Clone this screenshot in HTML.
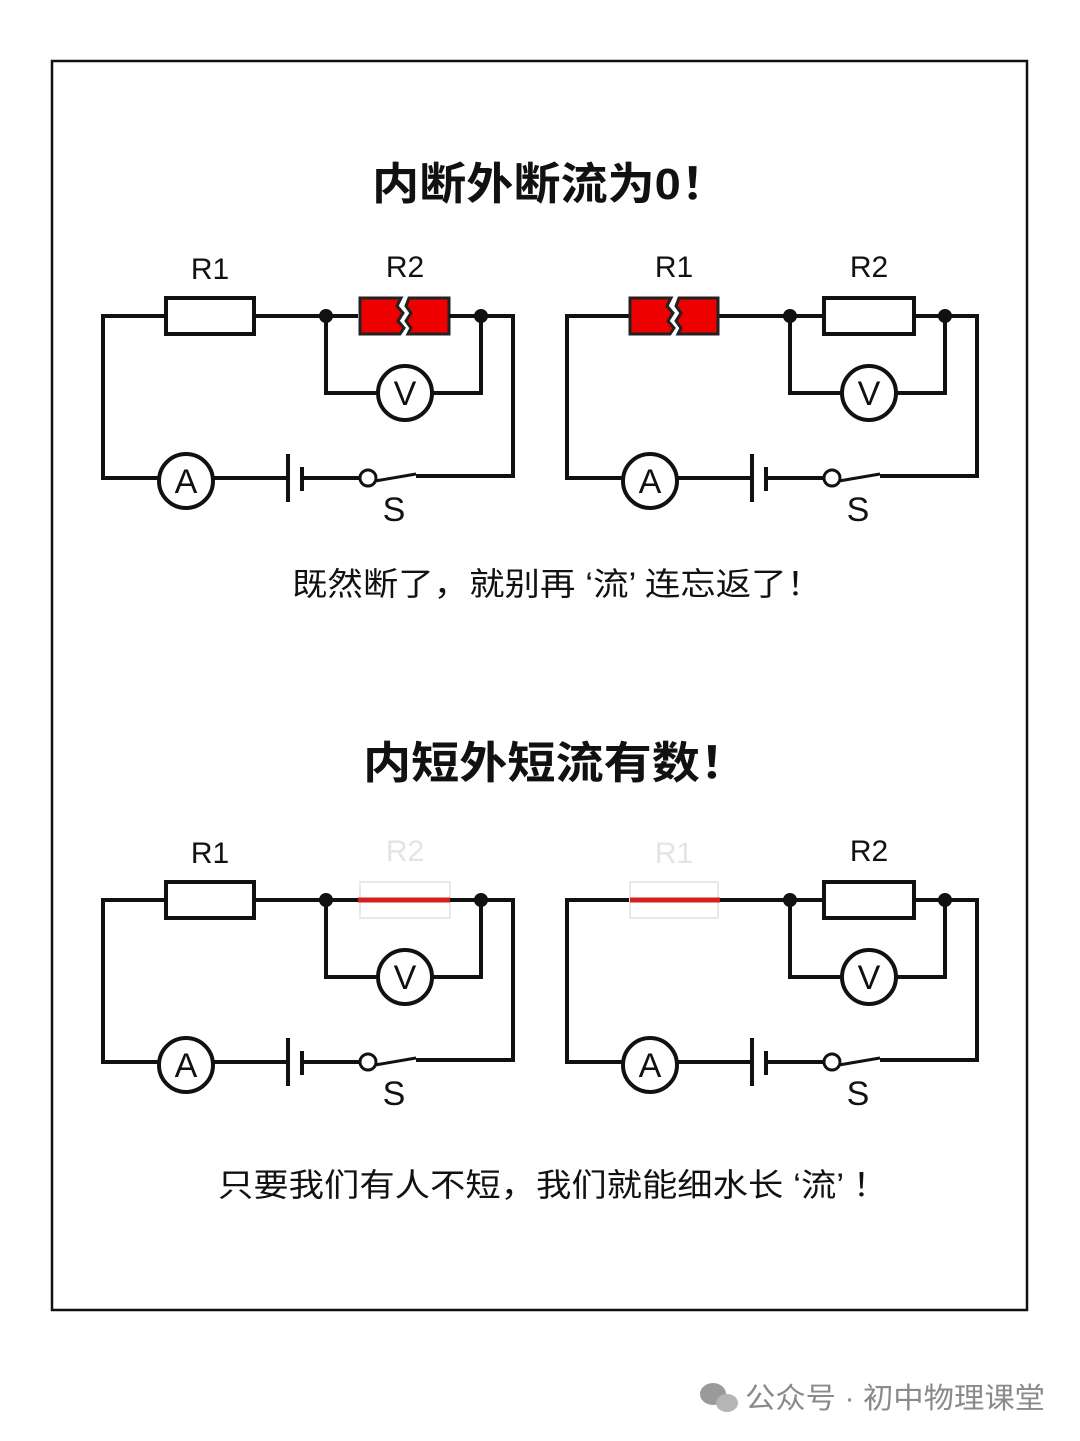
<!DOCTYPE html>
<html><head><meta charset="utf-8"><style>
body{margin:0;background:#fff}
svg{display:block}
text{font-family:"Liberation Sans","Noto Sans CJK SC",sans-serif}
</style></head><body>
<svg width="1080" height="1441" viewBox="0 0 1080 1441" xmlns="http://www.w3.org/2000/svg">
<defs>
<g id="base" fill="none" stroke="#111" stroke-width="4">
  <polyline points="166,316 103,316 103,478 159,478"/>
  <line x1="213" y1="478" x2="288" y2="478"/>
  <line x1="302" y1="478" x2="360" y2="478"/>
  <polyline points="416,476 513,476 513,316 449,316"/>
  <line x1="254" y1="316" x2="358" y2="316"/>
  <polyline points="326,316 326,393 378,393"/>
  <polyline points="481,316 481,393 432,393"/>
  <circle cx="405" cy="393" r="27" fill="#fff"/>
  <circle cx="186" cy="481" r="27" fill="#fff"/>
  <line x1="288" y1="454" x2="288" y2="502"/>
  <line x1="302" y1="467" x2="302" y2="491"/>
  <circle cx="368" cy="478" r="8" fill="#fff" stroke-width="3"/>
  <line x1="375" y1="481" x2="416" y2="474" stroke-width="3"/>
</g>
<g id="dots" fill="#111"><circle cx="326" cy="316" r="7"/><circle cx="481" cy="316" r="7"/></g>
<g id="labels" font-size="30" fill="#111">
  <text x="405" y="405" text-anchor="middle" font-size="34">V</text>
  <text x="186" y="493" text-anchor="middle" font-size="34">A</text>
  <text x="394" y="521" text-anchor="middle" font-size="34">S</text>
</g>
<g id="r1"><rect x="166" y="298" width="88" height="36" fill="#fff" stroke="#111" stroke-width="4"/></g>
<g id="r2"><rect x="360" y="298" width="90" height="36" fill="#fff" stroke="#111" stroke-width="4"/></g>
</defs>

<rect x="52" y="61" width="975" height="1249" fill="none" stroke="#111" stroke-width="2.5"/>

<text x="372" y="199" textLength="356" lengthAdjust="spacingAndGlyphs" font-size="44" font-weight="bold" fill="#111">内断外断流为0！</text>
<text x="292" y="595" textLength="530" lengthAdjust="spacingAndGlyphs" font-size="32" fill="#111">既然断了，就别再 ‘流’ 连忘返了！</text>
<text x="363" y="778" textLength="385" lengthAdjust="spacingAndGlyphs" font-size="44" font-weight="bold" fill="#111">内短外短流有数！</text>
<text x="218" y="1196" textLength="670" lengthAdjust="spacingAndGlyphs" font-size="32" fill="#111">只要我们有人不短，我们就能细水长 ‘流’ ！</text>

<g>
  <use href="#base"/>
  <use href="#r1"/>
  <path d="M360,298 H401 L397,306 L403,313 L398,321 L404,328 L400,334 H360 Z" fill="#e00" stroke="#222" stroke-width="3"/>
  <path d="M449,298 H409 L406,306 L411,313 L406,321 L411,328 L408,334 H449 Z" fill="#e00" stroke="#222" stroke-width="3"/>
  <line x1="449" y1="316" x2="481" y2="316" stroke="#111" stroke-width="4"/>
  <use href="#dots"/><use href="#labels"/>
  <text x="210" y="279" text-anchor="middle" font-size="30" fill="#111">R1</text>
  <text x="405" y="277" text-anchor="middle" font-size="30" fill="#111">R2</text>
</g>
<g transform="translate(464,0)">
  <use href="#base"/>
  <path d="M166,298 H207 L203,306 L209,313 L204,321 L210,328 L206,334 H166 Z" fill="#e00" stroke="#222" stroke-width="3"/>
  <path d="M254,298 H215 L212,306 L217,313 L212,321 L217,328 L214,334 H254 Z" fill="#e00" stroke="#222" stroke-width="3"/>
  <use href="#r2"/>
  <use href="#dots"/><use href="#labels"/>
  <text x="210" y="277" text-anchor="middle" font-size="30" fill="#111">R1</text>
  <text x="405" y="277" text-anchor="middle" font-size="30" fill="#111">R2</text>
</g>
<g transform="translate(0,584)">
  <use href="#base"/>
  <use href="#r1"/>
  <rect x="360" y="298" width="90" height="36" fill="none" stroke="#e8e8e8" stroke-width="2"/>
  <line x1="358" y1="316" x2="450" y2="316" stroke="#d61f1f" stroke-width="5"/>
  <line x1="450" y1="316" x2="481" y2="316" stroke="#111" stroke-width="4"/>
  <use href="#dots"/><use href="#labels"/>
  <text x="210" y="279" text-anchor="middle" font-size="30" fill="#111">R1</text>
  <text x="405" y="277" text-anchor="middle" font-size="30" fill="#e4e4e4">R2</text>
</g>
<g transform="translate(464,584)">
  <use href="#base"/>
  <rect x="166" y="298" width="88" height="36" fill="none" stroke="#e8e8e8" stroke-width="2"/>
  <line x1="166" y1="316" x2="256" y2="316" stroke="#d61f1f" stroke-width="5"/>
  <use href="#r2"/>
  <use href="#dots"/><use href="#labels"/>
  <text x="210" y="279" text-anchor="middle" font-size="30" fill="#e4e4e4">R1</text>
  <text x="405" y="277" text-anchor="middle" font-size="30" fill="#111">R2</text>
</g>

<g fill="#9a9a9a">
  <ellipse cx="713" cy="1394" rx="13" ry="11"/>
  <ellipse cx="727" cy="1403" rx="11" ry="9" fill="#b5b5b5"/>
</g>
<text x="745" y="1408" textLength="300" lengthAdjust="spacingAndGlyphs" font-size="29" fill="#8a8a8a">公众号 · 初中物理课堂</text>
</svg>
</body></html>
